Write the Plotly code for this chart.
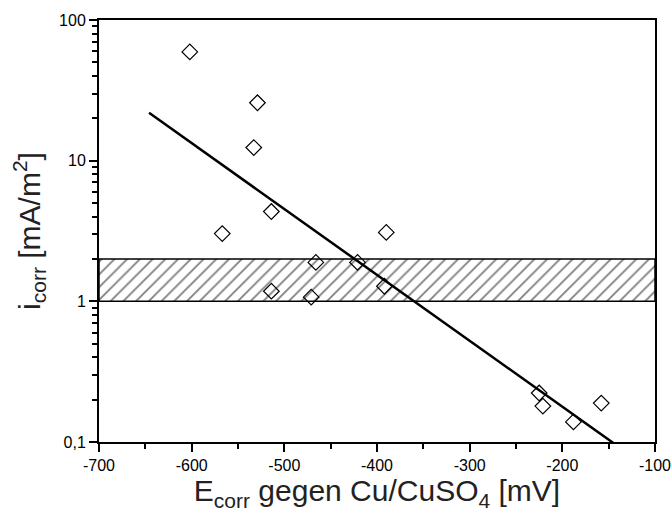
import plotly.graph_objects as go
import numpy as np

# data points (E_corr [mV], i_corr [mA/m2])
e_corr = [-602, -529, -533, -567, -514, -390, -466, -421, -514, -471, -392, -225, -221, -188, -158]
i_corr = [59.3, 25.8, 12.4, 3.03, 4.35, 3.09, 1.89, 1.89, 1.18, 1.07, 1.28, 0.223, 0.18, 0.139, 0.189]

# regression line end points
fit_x = [-646, -116]
fit_y = [21.9, 0.072]

# hatched band (range of i_corr)
band_x = [-700, -100]
band_lo = 1.0
band_hi = 2.0

ytick_vals = [0.1, 1, 10, 100]
ytick_text = ["0,1", "1", "10", "100"]
xtick_vals = [-700, -600, -500, -400, -300, -200, -100]
xtick_text = ["-700", "-600", "-500", "-400", "-300", "-200", "-100"]

tick_font = dict(family="Liberation Sans Narrow, Arial Narrow, Liberation Sans, Arial", size=16, color="black")
title_font = dict(family="Liberation Sans, Arial, Helvetica", size=30, color="#222")

fig = go.Figure()

fig.add_trace(go.Scatter(
    x=[band_x[0], band_x[1], band_x[1], band_x[0], band_x[0]],
    y=[band_lo, band_lo, band_hi, band_hi, band_lo],
    mode="lines", fill="toself", fillcolor="rgba(0,0,0,0)",
    fillpattern=dict(shape="/", fgcolor="black", bgcolor="white", size=9, solidity=0.2),
    line=dict(color="black", width=1.5), hoverinfo="skip", showlegend=False,
))

fig.add_trace(go.Scatter(
    x=fit_x, y=fit_y, mode="lines",
    line=dict(color="black", width=2.5), showlegend=False,
))

fig.add_trace(go.Scatter(
    x=e_corr, y=i_corr, mode="markers",
    marker=dict(symbol="diamond-open", size=12, color="black", line=dict(width=1.2)),
    showlegend=False, cliponaxis=False,
))

minor_y = []
for d in [0.1, 1, 10]:
    for k in range(2, 10):
        minor_y.append(d * k)

fig.update_layout(
    width=672, height=516,
    margin=dict(l=99, r=17, t=20, b=74),
    plot_bgcolor="white", paper_bgcolor="white",
    xaxis=dict(
        range=[-700, -100], showgrid=False, zeroline=False, automargin=False,
        showline=True, linecolor="black", linewidth=2, mirror=True,
        ticks="outside", ticklen=8, tickwidth=2, tickcolor="black",
        tickvals=xtick_vals, ticktext=xtick_text, tickfont=tick_font,
        minor=dict(ticks="outside", ticklen=5, tickwidth=1.5, tickcolor="black", dtick=50, tick0=-700),
        title=dict(text="E<sub>corr</sub> gegen Cu/CuSO<sub>4</sub> [mV]", font=title_font, standoff=4),
    ),
    yaxis=dict(
        type="log", range=[-1, 2], showgrid=False, zeroline=False, automargin=False,
        showline=True, linecolor="black", linewidth=2, mirror=True,
        ticks="outside", ticklen=8, tickwidth=2, tickcolor="black",
        tickvals=ytick_vals, ticktext=ytick_text, tickfont=tick_font,
        minor=dict(ticks="outside", ticklen=5, tickwidth=1.5, tickcolor="black", tickvals=minor_y),
        title=dict(text="i<sub>corr</sub> [mA/m<sup>2</sup>]", font=title_font, standoff=10),
    ),
)

fig.write_html("out.html")
